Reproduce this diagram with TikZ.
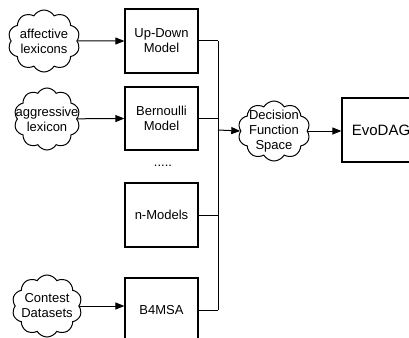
\documentclass[tikz,border=0pt]{standalone}
\usepackage{fontspec}
\setmainfont{Liberation Sans}
\usetikzlibrary{shapes.symbols,arrows.meta}
\begin{document}
\begin{tikzpicture}[x=1pt,y=-1pt,
  box/.style={draw, line width=1.2pt, minimum width=73pt, minimum height=64pt, inner sep=0pt, font=\fontsize{13}{15}\selectfont, align=center},
  cloudshape/.style={cloud, draw, line width=1pt, cloud puffs=10, cloud puff arc=120, cloud ignores aspect, minimum width=#1, minimum height=62pt, inner sep=0pt},
  lbl/.style={font=\fontsize{13}{15}\selectfont, align=center, inner sep=0pt},
  arr/.style={-{Triangle[length=9pt,width=7pt]}, line width=1pt},
  ln/.style={line width=1pt}]
\useasboundingbox (0,0) rectangle (409,337);
\clip (0,0) rectangle (409,337);
% clouds
\node[cloudshape=72pt] (c1) at (44,41) {};
\node[lbl] (c1t) at (c1.center) {affective\\lexicons};
\node[cloudshape=66pt] (c2) at (47,119) {};
\node[lbl] (c2t) at (c2.center) {aggressive\\lexicon};
\node[cloudshape=70pt] (c3) at (47,306) {};
\node[lbl] (c3t) at (c3.center) {Contest\\Datasets};
% model boxes
\node[box] (ud) at (161.5,41) {Up-Down\\Model};
\node[box, minimum height=63pt] (be) at (161.5,118.5) {Bernoulli\\Model};
\node[lbl] (dots) at (163,166) {.....};
\node[box] (nm) at (161.5,215) {n-Models};
\node[box] (b4) at (161.5,310) {B4MSA};
% decision function space
\node[cloudshape=72pt, minimum height=60pt] (dfs) at (274,131) {};
\node[lbl] (dfst) at (dfs.center) {Decision\\Function\\Space};
% EvoDAG
\node[box, minimum width=78pt, font=\fontsize{15}{18}\selectfont] (evo) at (381,130) {EvoDAG};
% connectors
\draw[arr] (c1) -- (ud.west);
\draw[arr] (c2) -- (be.west);
\draw[arr] (c3.east) -- (b4.west |- c3.east);
\coordinate (bus) at (218,130);
\draw[ln] (ud.east) -- (ud.east -| bus);
\draw[ln] (be.east) -- (be.east -| bus);
\draw[ln] (nm.east) -- (nm.east -| bus);
\draw[ln] (b4.east) -- (b4.east -| bus);
\draw[ln] (ud.east -| bus) -- (b4.east -| bus);
\draw[arr] (bus) -- (dfs.west);
\draw[arr] (dfs.east) -- (evo.west |- dfs.east);
\end{tikzpicture}
\end{document}
